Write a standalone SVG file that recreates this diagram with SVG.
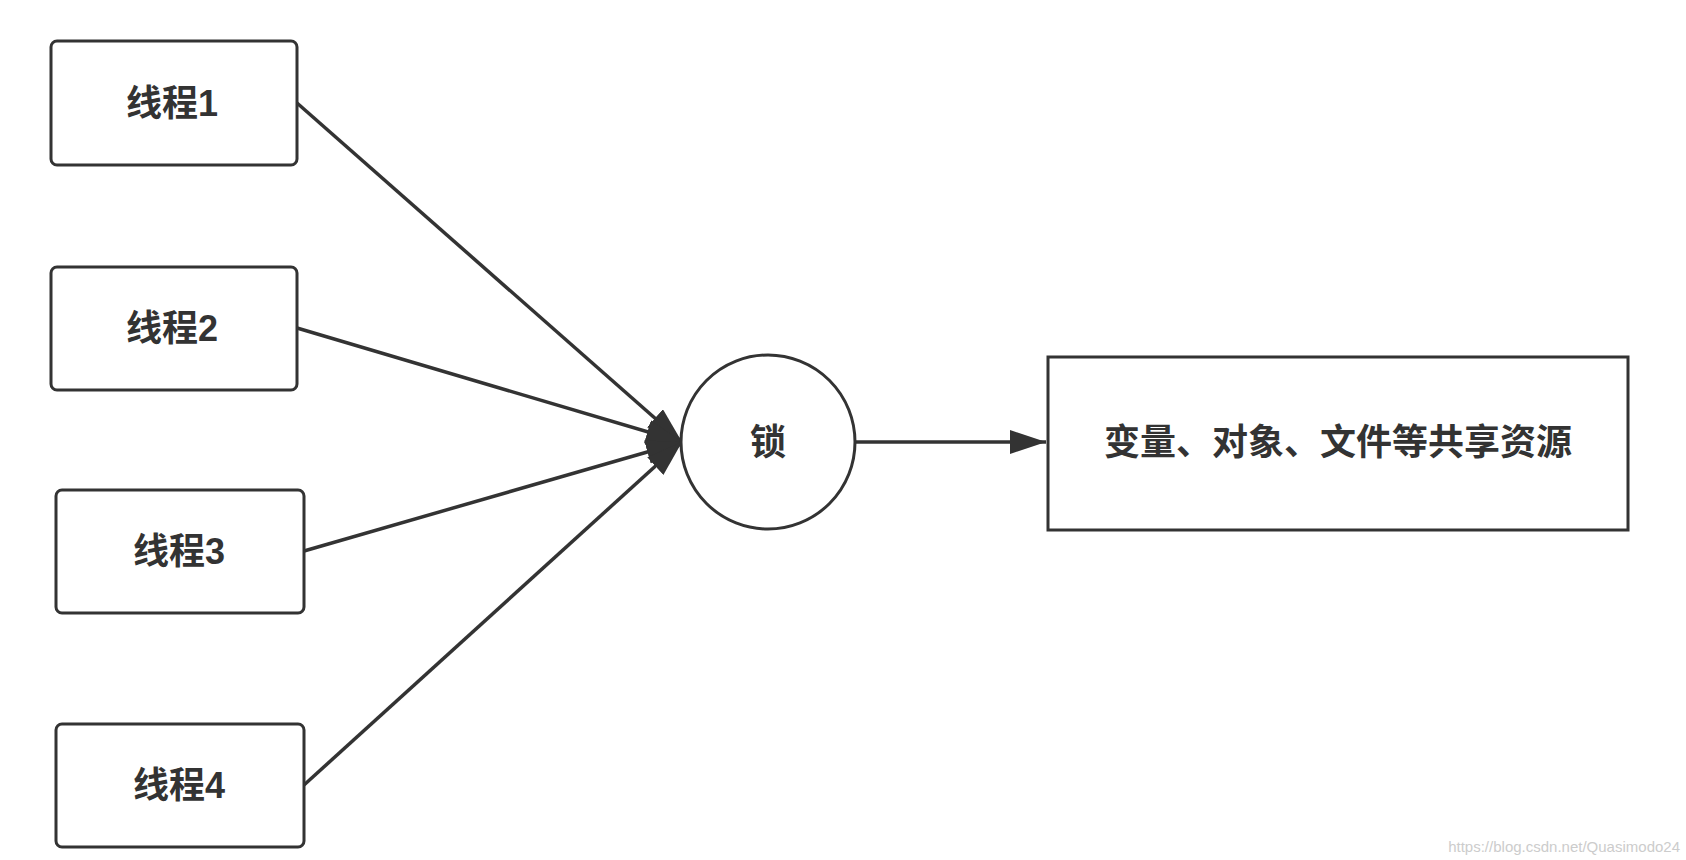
<svg xmlns="http://www.w3.org/2000/svg" width="1686" height="860" viewBox="0 0 1686 860">
<style>
.n{fill:#fff;stroke:#333;stroke-width:3}
.t{font-family:"Liberation Sans","Noto Sans CJK SC",sans-serif;font-weight:bold;font-size:36px;fill:#333;text-anchor:middle;dominant-baseline:central}
.c{stroke:#333;stroke-width:3.5;fill:none;marker-end:url(#a)}
</style>
<defs><marker id="a" markerUnits="userSpaceOnUse" markerWidth="40" markerHeight="30" refX="36" refY="12" orient="auto"><path d="M0,0L36,12L0,24Z" fill="#333"/></marker></defs>
<rect width="1686" height="860" fill="#fff"/>
<g id="connectors">
<line class="c" x1="297" y1="103" x2="682" y2="442"/>
<line class="c" x1="297" y1="328" x2="682" y2="442"/>
<line class="c" x1="304" y1="551" x2="682" y2="442"/>
<line class="c" x1="304" y1="785" x2="682" y2="442"/>
<line class="c" x1="855" y1="442" x2="1046" y2="442"/>
</g>
<g id="t1"><rect class="n" x="51" y="41" width="246" height="124" rx="6"/><text class="t" x="172" y="103">线程1</text></g>
<g id="t2"><rect class="n" x="51" y="267" width="246" height="123" rx="6"/><text class="t" x="172" y="328">线程2</text></g>
<g id="t3"><rect class="n" x="56" y="490" width="248" height="123" rx="6"/><text class="t" x="179" y="551">线程3</text></g>
<g id="t4"><rect class="n" x="56" y="724" width="248" height="123" rx="6"/><text class="t" x="179" y="785">线程4</text></g>
<g id="lock"><circle class="n" cx="768" cy="442" r="87"/><text class="t" x="768" y="442">锁</text></g>
<g id="res"><rect class="n" x="1048" y="357" width="580" height="173"/><text class="t" x="1338" y="442" font-size="35">变量、对象、文件等共享资源</text></g>
<text x="1680" y="852" font-family="Liberation Sans,sans-serif" font-size="15" fill="#ccc" text-anchor="end">https://blog.csdn.net/Quasimodo24</text>
</svg>
